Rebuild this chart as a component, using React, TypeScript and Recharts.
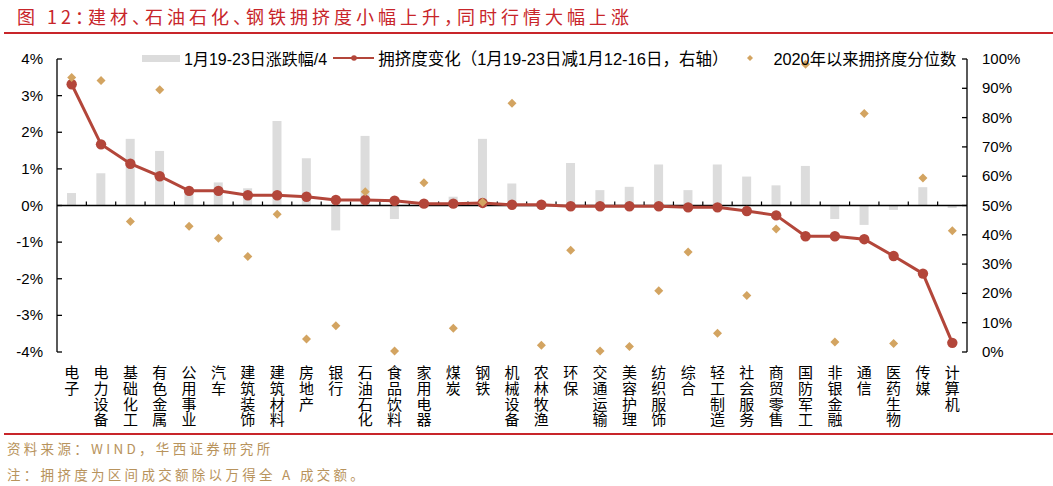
import React from "react";
import {
  Bar,
  ComposedChart,
  Line,
  ReferenceLine,
  Scatter,
  XAxis,
  YAxis,
} from "recharts";

const categories = [
  "电子", "电力设备", "基础化工", "有色金属", "公用事业", "汽车", "建筑装饰", "建筑材料",
  "房地产", "银行", "石油石化", "食品饮料", "家用电器", "煤炭", "钢铁", "机械设备",
  "农林牧渔", "环保", "交通运输", "美容护理", "纺织服饰", "综合", "轻工制造", "社会服务",
  "商贸零售", "国防军工", "非银金融", "通信", "医药生物", "传媒", "计算机",
];

// 1月19-23日涨跌幅/4 (%)
const weekReturn = [
  0.34, 0.88, 1.82, 1.49, 0.45, 0.63, 0.47, 2.31, 1.29, -0.68, 1.9, -0.37, 0.02, 0.24, 1.82, 0.6,
  0.02, 1.16, 0.42, 0.51, 1.12, 0.42, 1.12, 0.79, 0.55, 1.08, -0.37, -0.53, -0.12, 0.5, -0.07,
];

// 拥挤度变化 (%)
const crowdChange = [
  3.31, 1.67, 1.14, 0.8, 0.4, 0.4, 0.28, 0.28, 0.24, 0.15, 0.15, 0.13, 0.05, 0.05, 0.07, 0.02,
  0.02, -0.02, -0.02, -0.02, -0.02, -0.05, -0.05, -0.15, -0.27, -0.84, -0.84, -0.92, -1.38, -1.86, -3.75,
];

// 2020年以来拥挤度分位数 (%)
const crowdPct = [
  93.7, 92.7, 44.5, 89.5, 42.9, 38.8, 32.6, 47.0, 4.4, 9.0, 54.7, 0.3, 57.8, 8.1, 51.1, 84.9,
  2.3, 34.7, 0.3, 1.9, 20.9, 34.1, 6.4, 19.3, 42.0, 98.2, 3.4, 81.4, 2.9, 59.4, 41.4,
];

const leftTicks = [-4, -3, -2, -1, 0, 1, 2, 3, 4];
const rightTicks = [0, 10, 20, 30, 40, 50, 60, 70, 80, 90, 100];

const data = categories.map((name, i) => ({
  name,
  ret: weekReturn[i],
  change: crowdChange[i],
  pct: crowdPct[i],
}));

const BAR = "#dcdcdc";
const LINE = "#b3463a";
const DOT = "#d3a461";
const RED = "#c8252a";
const FONT = '"Liberation Sans", Arial, "Noto Sans CJK SC", sans-serif';
const CJK = '"Noto Sans CJK SC", sans-serif';

const LeftTick = (props: any) => {
  const { x, y, payload } = props;
  return (
    <g>
      <line x1={x + 14} x2={x + 19} y1={y} y2={y} stroke="#000" strokeWidth={1.3} />
      <text x={x} y={y} dy={5} textAnchor="end" fontSize={15} fill="#000" fontFamily={FONT}>
        {`${payload.value}%`}
      </text>
    </g>
  );
};

const RightTick = (props: any) => {
  const { x, y, payload } = props;
  return (
    <g>
      <line x1={x - 15} x2={x - 20} y1={y} y2={y} stroke="#000" strokeWidth={1.3} />
      <text x={x} y={y} dy={5} textAnchor="start" fontSize={15} fill="#000" fontFamily={FONT}>
        {`${payload.value}%`}
      </text>
    </g>
  );
};

// category names are written top to bottom
const CategoryTick = (props: any) => {
  const { x, y, payload } = props;
  return (
    <text
      x={x}
      y={y + 13}
      textAnchor="start"
      fontSize={15}
      letterSpacing={0.7}
      fill="#000"
      fontFamily={CJK}
      style={{ writingMode: "vertical-rl" }}
    >
      {payload.value}
    </text>
  );
};

const ZeroLine = (props: any) => {
  const { x1, x2, y1 } = props;
  const step = (x2 - x1) / categories.length;
  return (
    <g>
      <line x1={x1} x2={x2} y1={y1} y2={y1} stroke="#000" strokeWidth={1.3} />
      {categories.slice(1).map((_, i) => (
        <line
          key={i}
          x1={x1 + step * (i + 1)}
          x2={x1 + step * (i + 1)}
          y1={y1}
          y2={y1 - 4}
          stroke="#000"
          strokeWidth={1.2}
        />
      ))}
    </g>
  );
};

const Diamond = (props: any) => {
  const { cx, cy } = props;
  const s = 4.5;
  return (
    <polygon points={`${cx},${cy - s} ${cx + s},${cy} ${cx},${cy + s} ${cx - s},${cy}`} fill={DOT} />
  );
};

export default function App() {
  return (
    <div style={{ position: "relative", width: 1053, height: 486, background: "#fff", overflow: "hidden" }}>
      <style>{`body{margin:0}`}</style>
      <div
        style={{
          position: "absolute",
          left: 17,
          top: 3,
          fontFamily: CJK,
          fontSize: 18,
          letterSpacing: 4,
          fontFeatureSettings: '"halt"',
          color: RED,
          whiteSpace: "nowrap",
          lineHeight: "26px",
        }}
      >
        图 12：建材、石油石化、钢铁拥挤度小幅上升，同时行情大幅上涨
      </div>
      <div style={{ position: "absolute", left: 4, right: 0, top: 32, height: 2, background: RED }} />

      <ComposedChart
        width={1053}
        height={430}
        data={data}
        margin={{ top: 59, right: 0, bottom: 0, left: 0 }}
        style={{ position: "absolute", left: 0, top: 0 }}
      >
        <XAxis
          dataKey="name"
          interval={0}
          axisLine={false}
          tickLine={false}
          tickSize={0}
          tickMargin={0}
          height={78}
          tick={<CategoryTick />}
        />
        <YAxis
          yAxisId="left"
          orientation="left"
          width={57}
          domain={[-4, 4]}
          ticks={leftTicks}
          allowDataOverflow
          tickSize={0}
          tickMargin={14}
          tickLine={false}
          axisLine={{ stroke: "#000", strokeWidth: 1.3 }}
          tick={<LeftTick />}
        />
        <YAxis
          yAxisId="right"
          orientation="right"
          width={86}
          domain={[0, 100]}
          ticks={rightTicks}
          tickSize={0}
          tickMargin={15}
          tickLine={false}
          axisLine={{ stroke: "#000", strokeWidth: 1.3 }}
          tick={<RightTick />}
        />
        <Bar yAxisId="left" dataKey="ret" fill={BAR} barSize={9} isAnimationActive={false} />
        <ReferenceLine yAxisId="left" y={0} shape={<ZeroLine />} />
        <Line
          yAxisId="left"
          dataKey="change"
          stroke={LINE}
          strokeWidth={3}
          dot={{ r: 5.2, fill: LINE, stroke: LINE, strokeWidth: 0 }}
          activeDot={false}
          isAnimationActive={false}
        />
        <Scatter yAxisId="right" dataKey="pct" shape={<Diamond />} isAnimationActive={false} />
      </ComposedChart>

      <div
        style={{
          position: "absolute",
          left: 142,
          top: 48,
          height: 20,
          display: "flex",
          alignItems: "center",
          fontFamily: FONT,
          fontSize: 16,
          color: "#000",
          whiteSpace: "nowrap",
        }}
      >
        <span style={{ display: "inline-block", width: 38, height: 7, background: BAR, marginRight: 4 }} />
        <span>1月19-23日涨跌幅/4</span>
        <svg width={41} height={10} style={{ marginLeft: 6, marginRight: 4 }}>
          <line x1={0} x2={41} y1={5} y2={5} stroke={LINE} strokeWidth={2.2} />
          <circle cx={21} cy={5} r={2.8} fill={LINE} />
        </svg>
        <span style={{ fontSize: 16.5 }}>拥挤度变化（1月19-23日减1月12-16日，右轴）</span>
        <svg width={12} height={10} style={{ marginLeft: 16, marginRight: 17 }}>
          <polygon points="6,2 9,5 6,8 3,5" fill={DOT} />
        </svg>
        <span style={{ fontSize: 16.3 }}>2020年以来拥挤度分位数</span>
      </div>

      <div style={{ position: "absolute", left: 4, right: 0, top: 433, height: 2, background: RED }} />
      <div
        style={{
          position: "absolute",
          left: 7,
          top: 435,
          fontFamily: CJK,
          fontSize: 13.5,
          letterSpacing: 3.3,
          color: "#b8935c",
          whiteSpace: "nowrap",
          lineHeight: "26px",
        }}
      >
        <div>资料来源：WIND，华西证券研究所</div>
        <div>注：拥挤度为区间成交额除以万得全 A 成交额。</div>
      </div>
    </div>
  );
}
